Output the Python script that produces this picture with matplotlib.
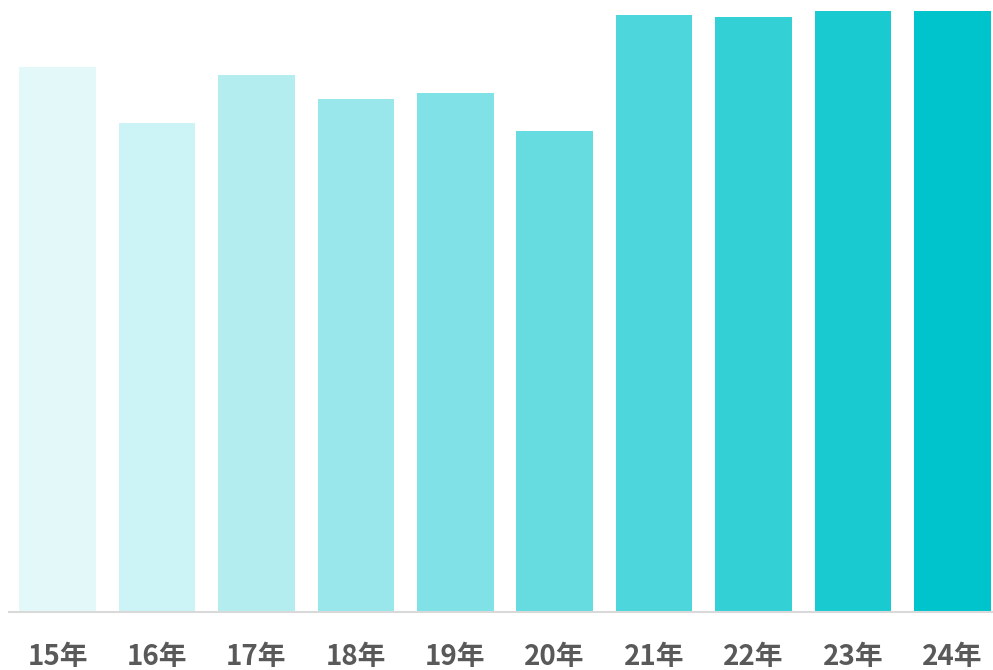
import matplotlib.pyplot as plt
from matplotlib.colors import to_rgb

plt.rcParams['font.family'] = ['Noto Sans CJK JP', 'DejaVu Sans']

# ==== data ====
years = ["15年", "16年", "17年", "18年", "19年", "20年", "21年", "22年", "23年", "24年"]
values = [544, 488, 536, 512, 518, 480, 596, 594, 600, 600]

# tints of the base colour, lighter for older years
base = to_rgb("#00c4cc")
alphas = [0.11, 0.2, 0.3, 0.4, 0.5, 0.6, 0.7, 0.8, 0.9, 1.0]
colors = [tuple(1 - a * (1 - c) for c in base) for a in alphas]

fig = plt.figure(figsize=(9.93, 6.70), dpi=100)
ax = fig.add_axes([9 / 993, 58 / 670, 984 / 993, 612 / 670])

x = range(len(years))
ax.bar(x, values, width=0.77, color=colors, zorder=2)

ax.set_xlim(-0.49, 9.41)
ax.set_ylim(0, 611)
ax.set_xticks(list(x))
ax.set_xticklabels(years, fontsize=20, fontweight="bold", color="#595959")
ax.tick_params(axis="x", length=0, pad=22)
ax.set_yticks([])

for s in ["top", "right", "left"]:
    ax.spines[s].set_visible(False)
ax.spines["bottom"].set_color("#d9d9d9")
ax.spines["bottom"].set_linewidth(1.5)

plt.savefig("out.png", dpi=100)
plt.close()
